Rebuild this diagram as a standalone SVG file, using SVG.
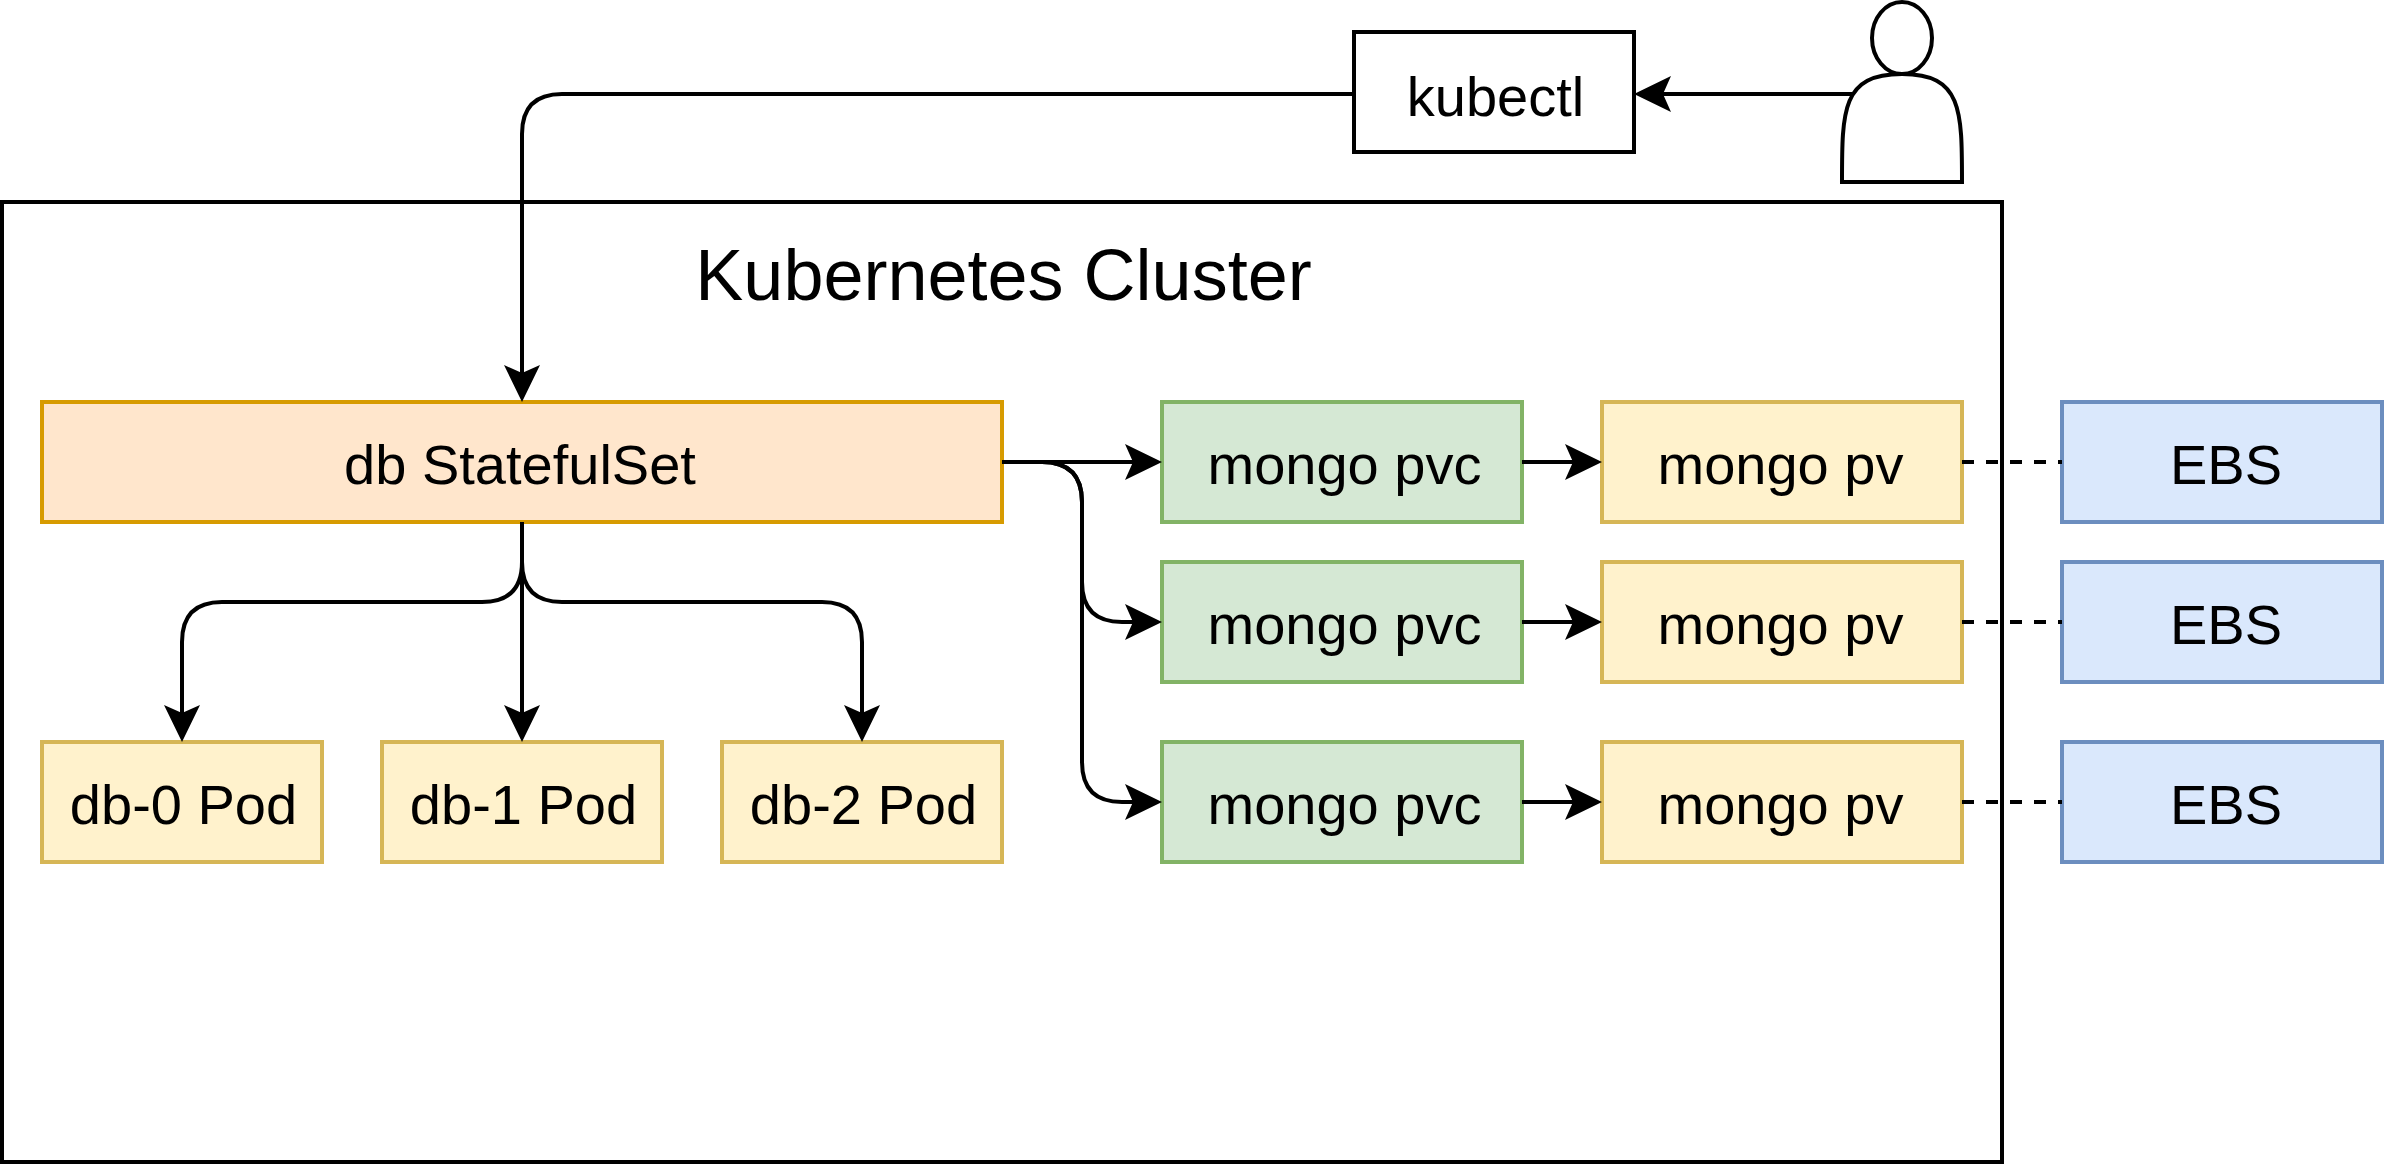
<svg xmlns="http://www.w3.org/2000/svg" width="2384" height="1164" viewBox="0 0 2384 1164">
  <style>
    .b { stroke-width: 4; }
    .k { fill: #ffffff; stroke: #000000; }
    .o { fill: #ffe6cc; stroke: #d79b00; }
    .g { fill: #d5e8d4; stroke: #82b366; }
    .y { fill: #fff2cc; stroke: #d6b656; }
    .u { fill: #dae8fc; stroke: #6c8ebf; }
    text { font-family: "Liberation Sans", Arial, sans-serif; font-size: 56px; fill: #000000; text-anchor: middle; }
    .c { fill: none; stroke: #000000; stroke-width: 4; }
    .a { marker-end: url(#arrow); }
    .d { stroke-dasharray: 12 12; }
  </style>
  <defs>
    <marker id="arrow" markerUnits="userSpaceOnUse" markerWidth="37" markerHeight="36" refX="8" refY="18" orient="auto">
      <path d="M0 0 L37 18 L0 36 L8 18 Z" fill="#000000"/>
    </marker>
  </defs>
  <rect width="2384" height="1164" fill="#ffffff"/>
  <g id="cluster">
    <rect class="k b" x="2" y="202" width="2000" height="960"/>
    <text x="1003.5" y="300" style="font-size:72px">Kubernetes Cluster</text>
  </g>
  <g id="kubectl">
    <rect class="k b" x="1354" y="32" width="280" height="120"/>
    <text x="1495.5" y="116">kubectl</text>
  </g>
  <g id="user">
    <ellipse class="k b" cx="1902" cy="38" rx="30" ry="36"/>
    <path class="k b" d="M1842 182 C1842 110 1842 74 1902 74 C1962 74 1962 110 1962 182 Z"/>
  </g>
  <g id="statefulset">
    <rect class="o b" x="42" y="402" width="960" height="120"/>
    <text x="520" y="484">db StatefulSet</text>
  </g>
  <g id="pod0">
    <rect class="y b" x="42" y="742" width="280" height="120"/>
    <text x="183.5" y="823.5">db-0 Pod</text>
  </g>
  <g id="pod1">
    <rect class="y b" x="382" y="742" width="280" height="120"/>
    <text x="523.5" y="823.5">db-1 Pod</text>
  </g>
  <g id="pod2">
    <rect class="y b" x="722" y="742" width="280" height="120"/>
    <text x="863.5" y="823.5">db-2 Pod</text>
  </g>
  <g id="pvc0">
    <rect class="g b" x="1162" y="402" width="360" height="120"/>
    <text x="1344.5" y="483.5">mongo pvc</text>
  </g>
  <g id="pvc1">
    <rect class="g b" x="1162" y="562" width="360" height="120"/>
    <text x="1344.5" y="643.5">mongo pvc</text>
  </g>
  <g id="pvc2">
    <rect class="g b" x="1162" y="742" width="360" height="120"/>
    <text x="1344.5" y="823.5">mongo pvc</text>
  </g>
  <g id="pv0">
    <rect class="y b" x="1602" y="402" width="360" height="120"/>
    <text x="1780.5" y="483.5">mongo pv</text>
  </g>
  <g id="pv1">
    <rect class="y b" x="1602" y="562" width="360" height="120"/>
    <text x="1780.5" y="643.5">mongo pv</text>
  </g>
  <g id="pv2">
    <rect class="y b" x="1602" y="742" width="360" height="120"/>
    <text x="1780.5" y="823.5">mongo pv</text>
  </g>
  <g id="ebs0">
    <rect class="u b" x="2062" y="402" width="320" height="120"/>
    <text x="2226" y="483.5">EBS</text>
  </g>
  <g id="ebs1">
    <rect class="u b" x="2062" y="562" width="320" height="120"/>
    <text x="2226" y="643.5">EBS</text>
  </g>
  <g id="ebs2">
    <rect class="u b" x="2062" y="742" width="320" height="120"/>
    <text x="2226" y="823.5">EBS</text>
  </g>
  <g id="connectors">
    <path class="c a" d="M1852 94 H1663"/>
    <path class="c a" d="M1354 94 H562 Q522 94 522 134 V373"/>
    <path class="c a" d="M522 522 V713"/>
    <path class="c a" d="M522 522 V562 Q522 602 482 602 H222 Q182 602 182 642 V713"/>
    <path class="c a" d="M522 522 V562 Q522 602 562 602 H822 Q862 602 862 642 V713"/>
    <path class="c a" d="M1002 462 H1133"/>
    <path class="c a" d="M1002 462 H1042 Q1082 462 1082 502 V582 Q1082 622 1122 622 H1133"/>
    <path class="c a" d="M1002 462 H1042 Q1082 462 1082 502 V762 Q1082 802 1122 802 H1133"/>
    <path class="c a" d="M1522 462 H1573"/>
    <path class="c a" d="M1522 622 H1573"/>
    <path class="c a" d="M1522 802 H1573"/>
    <path class="c d" d="M1962 462 H2062"/>
    <path class="c d" d="M1962 622 H2062"/>
    <path class="c d" d="M1962 802 H2062"/>
  </g>
</svg>
